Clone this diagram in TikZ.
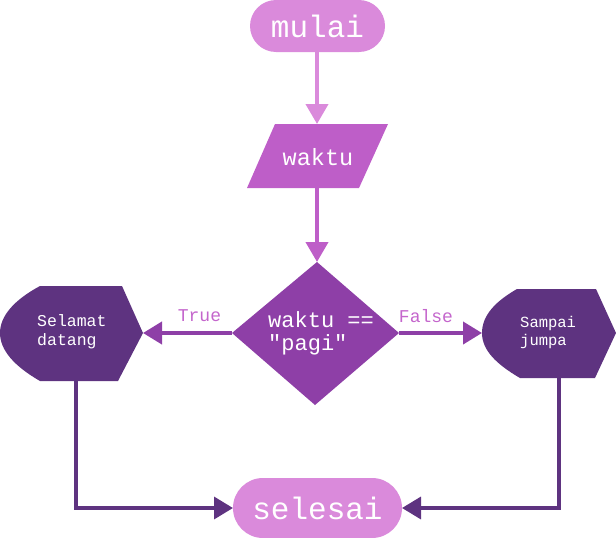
\documentclass[tikz,border=0pt]{standalone}
\usepackage{fontspec}
\setmonofont{Liberation Mono}
\usetikzlibrary{arrows.meta}
\definecolor{cLight}{HTML}{DA8ADB}
\definecolor{cMid}{HTML}{BE5EC8}
\definecolor{cDia}{HTML}{8E3FA7}
\definecolor{cDark}{HTML}{5E3380}
\definecolor{cLabel}{HTML}{C466CC}
\begin{document}
\begin{tikzpicture}[x=1pt,y=-1pt,
  txt/.style={text=white,font=\ttfamily,inner sep=0pt},
  lbl/.style={text=cLabel,font=\ttfamily\fontsize{18}{20}\selectfont,inner sep=0pt},
  conn/.style={line width=4pt},
  tip/.style={-{Triangle[width=22pt,length=20pt]}}
]
\useasboundingbox (0,0) rectangle (616,538);
% mulai
\fill[cLight,rounded corners=26pt] (250,0) rectangle (385,52);
\node[txt,font=\ttfamily\fontsize{31}{33}\selectfont] (mulai) at (317.5,26) {mulai};
\coordinate (mulaiS) at (317,52);
% waktu parallelogram
\fill[cMid] (275,124) -- (388,124) -- (359,188) -- (247,188) -- cycle;
\node[txt,font=\ttfamily\fontsize{23.5}{25}\selectfont] (waktu) at (318,157) {waktu};
\coordinate (waktuN) at (317,124);
\coordinate (waktuS) at (317,188);
% diamond
\fill[cDia] (317,262) -- (399,333) -- (315,405) -- (232,333) -- cycle;
\node[txt,font=\ttfamily\fontsize{22}{23}\selectfont,align=left,anchor=west] (cond) at (268,333) {waktu ==\\"pagi"};
\coordinate (diaN) at (317,262);
\coordinate (diaW) at (232,333);
\coordinate (diaE) at (399,333);
% left display
\fill[cDark] (40,286) -- (122,286) -- (143,333) -- (118,381) -- (40,381)
  .. controls (14,366) and (0,350) .. (0,333)
  .. controls (0,316) and (14,300) .. (40,286) -- cycle;
\node[txt,font=\ttfamily\fontsize{16.5}{19}\selectfont,align=left,anchor=west] (yes) at (37,332) {Selamat\\datang};
\coordinate (yesE) at (143,333);
\coordinate (yesS) at (76,381);
% right display
\fill[cDark] (517,289) -- (596,289) -- (616,333) -- (595,378) -- (520,378)
  .. controls (496,364) and (482,350) .. (482,333)
  .. controls (482,315) and (496,301) .. (517,289) -- cycle;
\node[txt,font=\ttfamily\fontsize{15.5}{18}\selectfont,align=left,anchor=west] (no) at (520,332) {Sampai\\jumpa};
\coordinate (noW) at (482,333);
\coordinate (noS) at (559,378);
% selesai
\fill[cLight,rounded corners=30pt] (233,478) rectangle (402,538);
\node[txt,font=\ttfamily\fontsize{31}{33}\selectfont] (selesai) at (317.5,508) {selesai};
\coordinate (selW) at (233,508);
\coordinate (selE) at (402,508);
% connectors
\draw[conn,cLight,tip] (mulaiS) -- (waktuN);
\draw[conn,cMid,tip] (waktuS) -- (diaN);
\draw[conn,cDia,-{Triangle[width=22pt,length=19pt]}] (diaW) -- (yesE);
\draw[conn,cDia,-{Triangle[width=22pt,length=19pt]}] (diaE) -- (noW);
\draw[line width=3.5pt,cDark,-{Triangle[width=22pt,length=19pt]}] (yesS) |- (selW);
\draw[line width=3.5pt,cDark,-{Triangle[width=22pt,length=19pt]}] (noS) |- (selE);
% labels
\node[lbl] (lt) at (199.5,316) {True};
\node[lbl] (lf) at (426,316) {False};
\end{tikzpicture}
\end{document}
